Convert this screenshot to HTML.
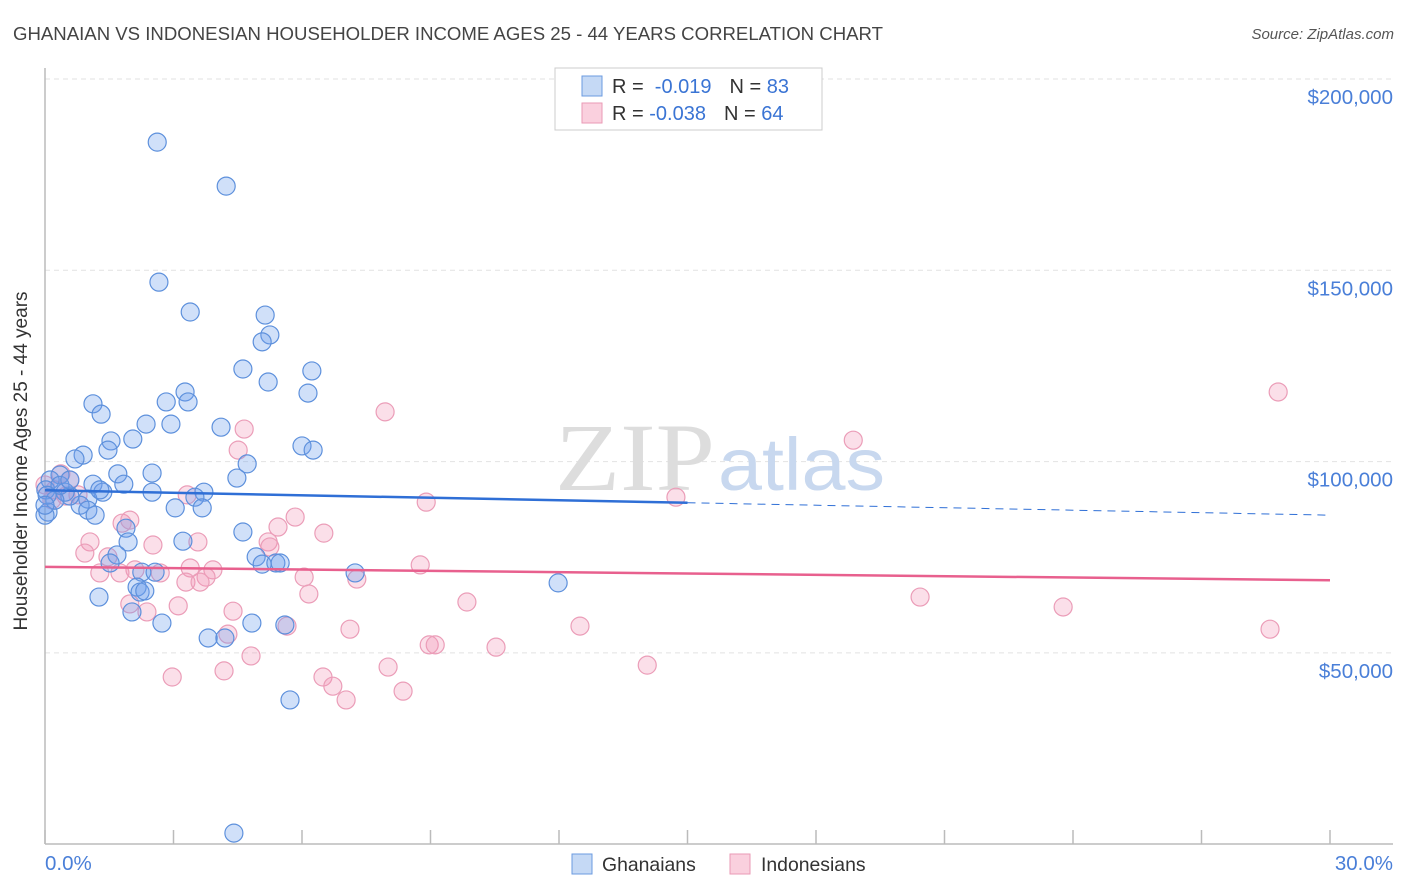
<!DOCTYPE html>
<html><head><meta charset="utf-8"><style>
body{margin:0;background:#fff;font-family:"Liberation Sans",sans-serif}
svg{display:block}
</style></head><body>
<svg id="chart" width="1406" height="892">
<text x="13" y="40" font-size="18.6" fill="#444">GHANAIAN VS INDONESIAN HOUSEHOLDER INCOME AGES 25 - 44 YEARS CORRELATION CHART</text>
<text x="1394" y="39" font-size="15" fill="#555" font-style="italic" text-anchor="end">Source: ZipAtlas.com</text>
<g id="grid"></g>
<g>
<text x="555" y="490" font-family="Liberation Serif,serif" font-size="96" fill="#ddd" textLength="160" lengthAdjust="spacingAndGlyphs">ZIP</text>
<text x="718" y="490" font-size="74" fill="#c8d8ef" textLength="167" lengthAdjust="spacingAndGlyphs">atlas</text>
</g>
<line x1="45" y1="68" x2="45" y2="844" stroke="#bbb" stroke-width="1.5"/>
<line x1="45" y1="844" x2="1393" y2="844" stroke="#bbb" stroke-width="1.5"/>
<text x="21" y="455" font-size="19" fill="#333" text-anchor="middle" transform="rotate(-90 27 455)">Householder Income Ages 25 - 44 years</text>
<text x="45" y="870" font-size="20.5" fill="#4a7fd8">0.0%</text>
<text x="1393" y="870" font-size="20.5" fill="#4a7fd8" text-anchor="end">30.0%</text>
<g id="marks"></g>
<g>
<rect x="555" y="68" width="267" height="62" fill="#fff" stroke="#ccc"/>
<rect x="582" y="76" width="20" height="20" fill="#c5d9f5" stroke="#6b9be0"/>
<rect x="582" y="103" width="20" height="20" fill="#fad0de" stroke="#ea9ab5"/>
<text x="612" y="93" font-size="20" fill="#333">R = <tspan fill="#3a74d4">&#160;-0.019</tspan><tspan dx="18">N = </tspan><tspan fill="#3a74d4">83</tspan></text>
<text x="612" y="120" font-size="20" fill="#333">R = <tspan fill="#3a74d4">-0.038</tspan><tspan dx="18">N = </tspan><tspan fill="#3a74d4">64</tspan></text>
</g>
<g>
<rect x="572" y="854" width="20" height="20" fill="#c5d9f5" stroke="#6b9be0"/>
<text x="602" y="871" font-size="19.4" fill="#333">Ghanaians</text>
<rect x="730" y="854" width="20" height="20" fill="#fad0de" stroke="#ea9ab5"/>
<text x="761" y="871" font-size="19.4" fill="#333">Indonesians</text>
</g>
</svg>
<script>
const yTicks=[50000,100000,150000,200000];
const yTickLabels=["$50,000","$100,000","$150,000","$200,000"];
const xTicks=[0,3,6,9,12,15,18,21,24,27,30];
const blueX=[2.62,4.23,2.66,3.39,5.14,5.25,5.07,4.62,6.23,5.21,6.14,3.27,3.34,1.12,2.83,1.31,2.36,2.94,4.11,2.05,1.54,0.89,0.70,6.00,6.26,1.70,2.50,4.72,4.48,0.35,0.12,1.84,1.12,0.02,3.71,3.50,2.50,1.35,1.00,0.82,0.58,3.04,3.67,1.00,1.17,0.07,0.0,4.62,1.89,3.22,1.94,1.68,4.93,5.07,5.39,5.49,1.52,2.26,2.57,7.24,11.98,2.15,2.22,2.33,1.26,2.03,2.73,4.83,5.60,3.81,4.20,5.72,4.41,0.47,0.23,0.35,0.05,0.58,1.28,1.47,0.0];
const blueY=[183.5,172.0,146.9,139.1,138.3,133.1,131.3,124.2,123.7,120.8,117.9,118.2,115.6,115.1,115.6,112.4,109.8,109.8,109.0,105.9,105.4,101.7,100.7,104.1,103.0,96.8,97.0,99.4,95.7,96.5,95.2,94.1,94.1,92.6,92.0,90.7,92.0,92.0,90.2,88.6,91.0,87.9,87.9,87.3,86.0,86.8,86.0,81.6,82.6,79.2,79.0,75.6,75.1,73.2,73.5,73.5,73.5,71.1,71.1,70.9,68.3,67.2,65.9,66.2,64.6,60.7,57.8,57.8,57.3,53.9,53.9,37.7,2.9,92.0,89.9,93.8,91.2,95.2,92.6,103.0,88.6];
const pinkX=[28.79,7.94,4.65,18.87,4.51,3.32,14.73,8.90,0.37,0.58,0.23,0.0,0.49,0.16,0.77,5.84,1.80,5.44,6.51,1.05,3.57,2.52,5.21,5.25,0.93,1.47,8.76,6.05,3.92,3.39,2.10,2.69,1.28,1.75,3.76,7.28,3.29,3.62,6.16,1.98,2.38,4.39,3.11,9.85,20.43,23.77,7.12,12.49,28.60,5.65,4.27,10.53,8.97,9.11,8.01,14.06,4.81,4.18,2.97,6.49,6.72,8.36,7.03,1.98];
const pinkY=[118.2,113.0,108.5,105.6,103.0,91.3,90.7,89.4,96.8,95.2,92.6,93.9,91.0,90.0,91.3,85.5,83.9,82.9,81.3,79.0,79.0,78.2,79.0,77.7,76.1,75.1,73.0,69.8,71.7,72.2,71.7,70.9,70.9,70.9,69.8,69.3,68.5,68.5,65.4,62.8,60.7,60.9,62.3,63.3,64.6,62.0,56.2,57.0,56.2,57.0,54.9,51.5,52.1,52.1,46.3,46.8,49.2,45.3,43.7,43.7,41.3,40.0,37.7,84.7];
const blueTrend=[92.5,86.0];
const pinkTrend=[72.5,69.0];
const NS="http://www.w3.org/2000/svg";
const X=p=>45+p*(1330-45)/30;
const Y=v=>79+(200000-v)*191.3/50000;
function mk(t,a,parent){const e=document.createElementNS(NS,t);for(const k in a)e.setAttribute(k,a[k]);parent.appendChild(e);return e;}
const grid=document.getElementById('grid'),marks=document.getElementById('marks');
yTicks.forEach((v,i)=>{
 const l=mk('line',{x1:45,x2:1393,y1:Y(v),y2:Y(v),stroke:'#e2e2e2','stroke-dasharray':'5,4'},grid);
 
 
 const t=mk('text',{x:1393,y:Y(v)+25,'font-size':20.5,fill:'#4a7fd8','text-anchor':'end'},grid);
 t.textContent=yTickLabels[i];
 
 
});
xTicks.forEach(p=>{
 const l=mk('line',{x1:X(p),x2:X(p),y1:830,y2:844,stroke:'#bbb','stroke-width':1.5},grid);
 
 
});
pinkX.forEach((p,i)=>{
 const c=mk('circle',{cx:X(p),cy:Y(pinkY[i]*1000),r:9,fill:'rgba(242,150,182,0.3)',stroke:'#eb9db8','stroke-width':1.2},marks);
 
 
});
blueX.forEach((p,i)=>{
 const c=mk('circle',{cx:X(p),cy:Y(blueY[i]*1000),r:9,fill:'rgba(110,160,235,0.32)',stroke:'#5d90dc','stroke-width':1.2},marks);
 
 
});
const bAt=p=>blueTrend[0]+(blueTrend[1]-blueTrend[0])*p/30;
let l=mk('line',{x1:X(0),y1:Y(bAt(0)*1000),x2:X(15),y2:Y(bAt(15)*1000),stroke:'#2f6fd6','stroke-width':2.5},marks);


l=mk('line',{x1:X(15),y1:Y(bAt(15)*1000),x2:X(30),y2:Y(bAt(30)*1000),stroke:'#2f6fd6','stroke-width':1,'stroke-dasharray':'8,6'},marks);


l=mk('line',{x1:X(0),y1:Y(pinkTrend[0]*1000),x2:X(30),y2:Y(pinkTrend[1]*1000),stroke:'#e8608e','stroke-width':2.5},marks);


</script>
</body></html>
